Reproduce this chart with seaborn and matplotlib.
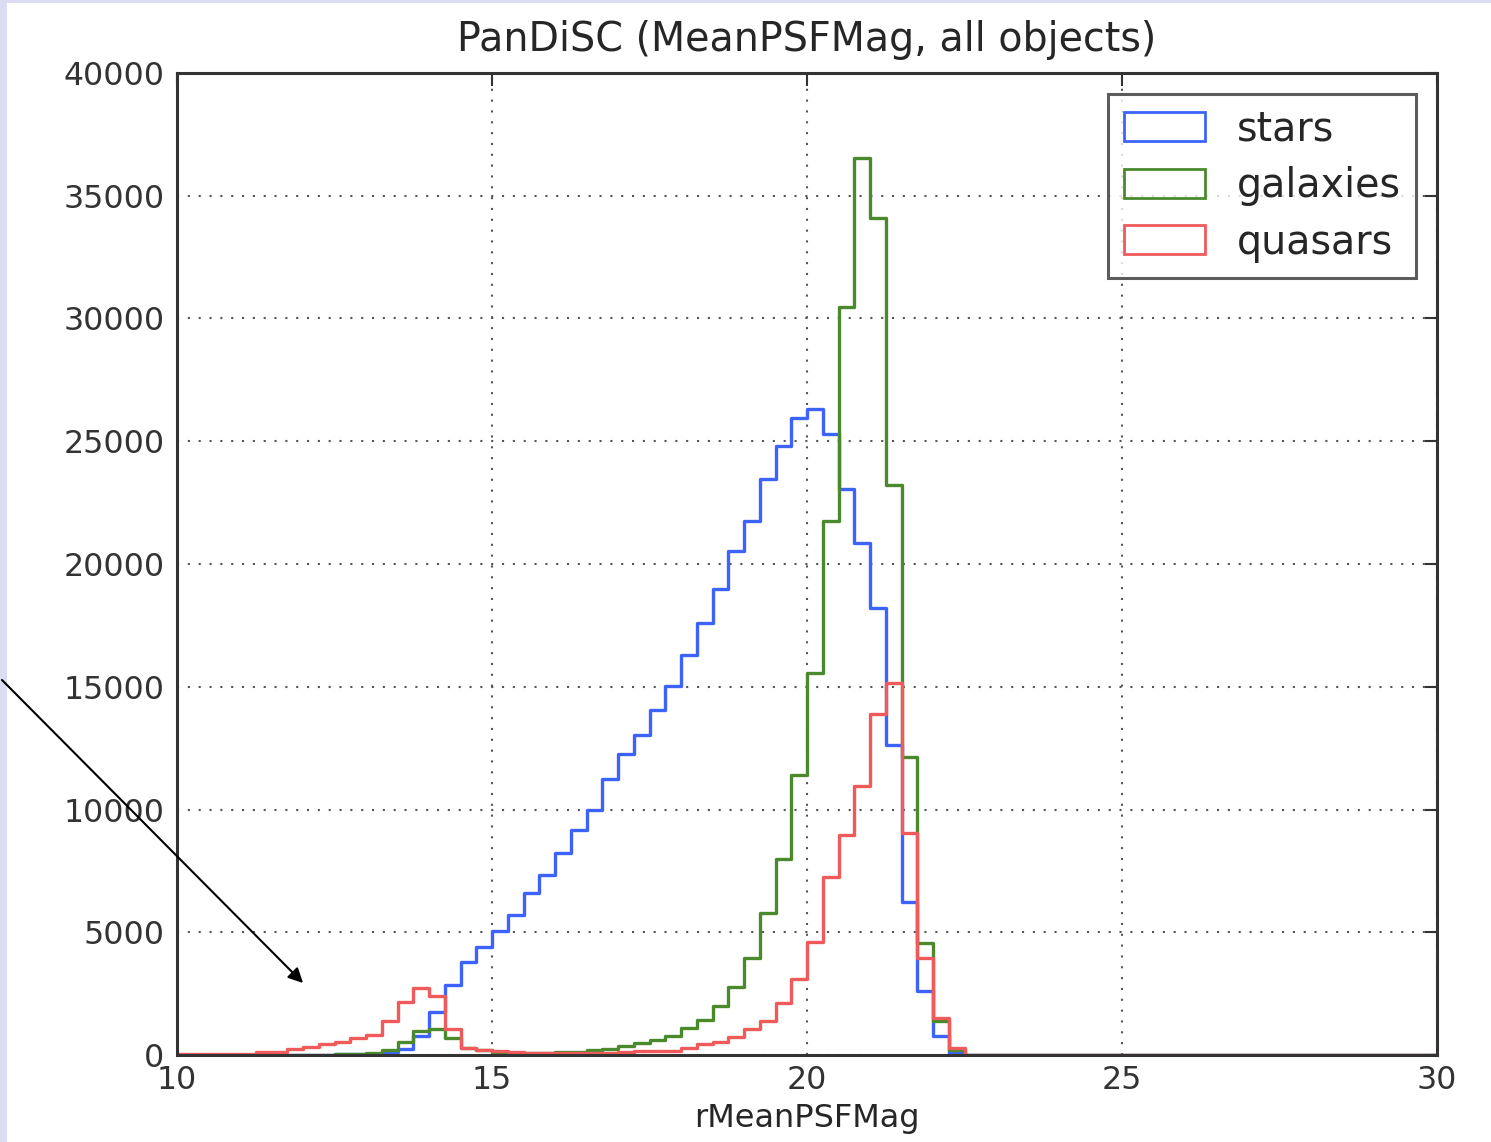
import numpy as np
import pandas as pd
import matplotlib
matplotlib.use("Agg")
import matplotlib.pyplot as plt
from matplotlib.patches import Patch, Rectangle, FancyArrowPatch
import seaborn as sns

# r-band mean PSF magnitude histogram, 0.25 mag bins from 10 to 30
bin_start = 10.0
bin_stop = 30.0
bin_width = 0.25

# counts per bin, starting at r = 10.0 (bins beyond the listed ones are empty)
stars = [0, 0, 0, 0, 0, 0, 0, 0, 10, 20, 30, 40,
         60, 120, 245, 775, 1750, 2850, 3790, 4400,
         5050, 5700, 6600, 7330, 8230, 9160, 9980, 11240,
         12260, 13030, 14050, 15030, 16290, 17600, 18980, 20530,
         21750, 23460, 24800, 25950, 26300, 25300, 23050, 20850,
         18200, 12630, 6230, 2600, 775, 100]
galaxies = [0, 0, 0, 0, 0, 0, 0, 0, 0, 0, 40, 60,
            100, 200, 530, 980, 1060, 690, 285, 200,
            120, 100, 90, 100, 110, 130, 200, 250,
            370, 490, 610, 775, 1100, 1425, 2000, 2770,
            3950, 5780, 8000, 11400, 15560, 21750, 30470, 36540,
            34090, 23220, 12140, 4560, 1400, 200]
quasars = [40, 40, 40, 50, 50, 120, 120, 245, 330, 450, 530, 690,
           815, 1385, 2160, 2730, 2400, 1060, 285, 200,
           150, 120, 100, 90, 80, 80, 90, 100,
           130, 150, 160, 180, 285, 450, 530, 730,
           1060, 1385, 2100, 3100, 4600, 7250, 8960, 10950,
           13890, 15150, 9040, 3950, 1500, 285]

labels = ["stars", "galaxies", "quasars"]
colors = ["#3d63ff", "#4a8a2c", "#f05a5a"]

edges = np.arange(bin_start, bin_stop + bin_width / 2, bin_width)
centers = edges[:-1] + bin_width / 2
n_bins = len(centers)


def full_counts(values):
    out = np.zeros(n_bins)
    out[:len(values)] = values
    return out


frames = []
for name, vals in zip(labels, [stars, galaxies, quasars]):
    frames.append(pd.DataFrame({"mag": centers, "count": full_counts(vals), "kind": name}))
df = pd.concat(frames, ignore_index=True)

sns.set_style("white")
text_color = "#262626"
plt.rcParams["font.family"] = ["DejaVu Sans"]
plt.rcParams["text.color"] = text_color
plt.rcParams["axes.labelcolor"] = text_color
plt.rcParams["xtick.color"] = "#333333"
plt.rcParams["ytick.color"] = "#333333"

fig = plt.figure(figsize=(14.91, 11.42), dpi=100)
fig.patch.set_facecolor("white")

# slide frame strips along the left and top edges
fig.patches.append(Rectangle((0, 0), 7 / 1491, 1, transform=fig.transFigure,
                             facecolor="#dcdcf2", edgecolor="none", zorder=-10))
fig.patches.append(Rectangle((0, 1 - 3 / 1142), 1, 3 / 1142, transform=fig.transFigure,
                             facecolor="#dcdcf2", edgecolor="none", zorder=-10))

ax = fig.add_axes([177 / 1491, 1 - 1055 / 1142, (1437 - 177) / 1491, (1055 - 73) / 1142])

for name, col in zip(labels, colors):
    sns.histplot(data=df[df["kind"] == name], x="mag", weights="count",
                 binwidth=bin_width, binrange=(bin_start, bin_stop),
                 element="step", fill=False, color=col, linewidth=2.4, ax=ax)

ax.set_xlim(10, 30)
ax.set_ylim(0, 40000)
ax.set_xticks([10, 15, 20, 25, 30])
ax.set_yticks(np.arange(0, 40001, 5000))
ax.set_ylabel("")
ax.set_xlabel("rMeanPSFMag", fontsize=23, labelpad=5)
ax.set_title("PanDiSC (MeanPSFMag, all objects)", fontsize=28.5, pad=16)

ax.grid(True, color="#555555", linestyle=(0, (1, 4.2)), linewidth=1.5)
ax.set_axisbelow(True)
ax.tick_params(axis="both", which="major", direction="in", length=9, width=1.5,
               top=True, right=True, labelsize=22.8)
ax.tick_params(axis="x", pad=7)
ax.tick_params(axis="y", pad=9)
for sp in ax.spines.values():
    sp.set_linewidth(2.2)
    sp.set_color("#333333")

handles = [Patch(facecolor="none", edgecolor=c, linewidth=2.0, label=l)
           for l, c in zip(labels, colors)]
leg = ax.legend(handles=handles, loc="upper right", fontsize=28.5, frameon=True,
                fancybox=False, borderaxespad=0.52, handlelength=2.05, handleheight=0.75,
                handletextpad=0.8, labelspacing=0.42, borderpad=0.4)
leg.get_frame().set_edgecolor("#333333")
leg.get_frame().set_linewidth(2.2)

# annotation arrow pointing at the faint bright-end tail
arrow = FancyArrowPatch((0, 1 - 678 / 1142), (305 / 1491, 1 - 985 / 1142),
                        transform=fig.transFigure, arrowstyle="-|>", mutation_scale=22,
                        color="black", linewidth=1.5, zorder=20)
fig.add_artist(arrow)

fig.savefig("out.png", dpi=100, facecolor=fig.get_facecolor())
